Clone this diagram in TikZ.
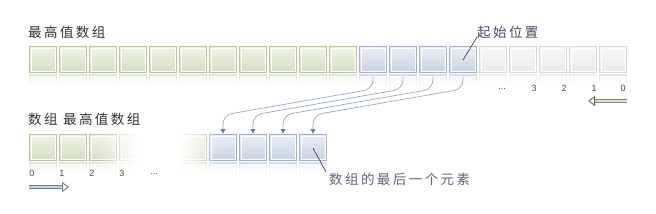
\documentclass[tikz,border=0pt]{standalone}
\usepackage{fontspec}
\setsansfont{Liberation Sans}
\newfontfamily\cjk[LetterSpace=18]{Noto Sans CJK SC}
\usepackage{tikz}
\usetikzlibrary{positioning,arrows.meta,calc,fadings}
\usepackage{xcolor}
\definecolor{grnline}{RGB}{181,197,156}
\definecolor{grntop}{RGB}{240,244,230}
\definecolor{grnbot}{RGB}{211,222,194}
\definecolor{blueline}{RGB}{159,178,203}
\definecolor{bluetop}{RGB}{234,239,247}
\definecolor{bluebot}{RGB}{198,211,227}
\definecolor{grayline}{RGB}{216,216,216}
\definecolor{graytop}{RGB}{248,248,248}
\definecolor{graybot}{RGB}{234,234,234}
\definecolor{moveclr}{RGB}{150,167,193}
\definecolor{tipclr}{RGB}{107,125,153}
\definecolor{labelclr}{RGB}{64,76,96}
% white veil over the gap in the lower row
\pgfdeclarehorizontalshading{gapshade}{100bp}{color(0bp)=(pgftransparent!100); color(25bp)=(pgftransparent!100); color(42bp)=(pgftransparent!0); color(59bp)=(pgftransparent!0); color(75bp)=(pgftransparent!100); color(100bp)=(pgftransparent!100)}
\pgfdeclarefading{gapfade}{\pgfuseshading{gapshade}}
\tikzset{
  cell/.style={minimum width=27pt, minimum height=26pt, inner sep=0pt, line width=0.9pt,
    path picture={\draw[white, line width=0.8pt]
      ([shift={(1.4pt,-1.4pt)}]path picture bounding box.north west) rectangle
      ([shift={(-1.4pt,1.4pt)}]path picture bounding box.south east);}},
  greencell/.style={cell, draw=grnline, top color=grntop, bottom color=grnbot},
  bluecell/.style={cell, draw=blueline, top color=bluetop, bottom color=bluebot},
  graycell/.style={cell, draw=grayline, top color=graytop, bottom color=graybot},
  idx/.style={font=\sffamily\fontsize{9}{9}\selectfont, text=black!70, inner sep=0pt},
  moveline/.style={draw=moveclr, line width=0.7pt, rounded corners=9pt,
    -{Latex[length=5pt,width=5.5pt,color=tipclr]}},
  leader/.style={draw=black!80, line width=0.6pt}
}
\begin{document}
\begin{tikzpicture}[x=1pt,y=-1pt]
  \useasboundingbox (0,0) rectangle (656,214);
  % top row
  \node[anchor=west, inner sep=0pt, text=black!80, font=\cjk\fontsize{13.5}{14}\selectfont] (toptitle) at (28,32) {最高值数组};
  \foreach \i in {0,...,10}
    \node[greencell] (top\i) at (43+30*\i,59.5) {};
  \foreach \i in {11,...,14}
    \node[bluecell] (top\i) at (43+30*\i,59.5) {};
  \foreach \i in {15,...,19}
    \node[graycell] (top\i) at (43+30*\i,59.5) {};
  \foreach \i/\c/\f in {0/grnline/grntop,1/grnline/grntop,2/grnline/grntop,3/grnline/grntop,
      4/grnline/grntop,5/grnline/grntop,6/grnline/grntop,7/grnline/grntop,8/grnline/grntop,
      9/grnline/grntop,10/grnline/grntop,11/blueline/bluetop,12/blueline/bluetop,
      13/blueline/bluetop,14/blueline/bluetop,15/grayline/graytop,16/grayline/graytop,
      17/grayline/graytop,18/grayline/graytop,19/grnline/graytop} {
    \shade[top color=\c!40!white, bottom color=white]
      ([yshift=-2pt]top\i.south west) rectangle ([yshift=-13pt]top\i.south east);
    \shade[top color=\f!50!white, bottom color=white]
      ([shift={(1.4pt,-3.4pt)}]top\i.south west) rectangle ([shift={(-1.4pt,-13pt)}]top\i.south east);
  }
  \node[idx] (n0) at (623,88) {0};
  \node[idx] (n1) at (594,88) {1};
  \node[idx] (n2) at (564,88) {2};
  \node[idx] (n3) at (534,88) {3};
  \node[idx] (ndots) at (502,89) {...};
  \node[anchor=west, inner sep=0pt, text=labelclr, font=\cjk\fontsize{13.5}{14}\selectfont] (startlbl) at (477,32) {起始位置};
  \coordinate (startpt) at (463,60);
  \draw[leader] ([shift={(0pt,-5pt)}]startlbl.west) -- (startpt);
  \coordinate (backS) at (627,101);
  \coordinate (backE) at (588,101);
  \draw[draw=grnline!70!black, double=grntop!60!grnline, double distance=1.8pt, line width=0.8pt,
    -{Triangle[open, length=7pt, width=10pt, line width=0.9pt, color=grnline!55!black]}] (backS) -- (backE);

  % bottom row
  \node[anchor=west, inner sep=0pt, text=black!80, font=\cjk\fontsize{13.5}{14}\selectfont] (bottitle) at (28,119) {数组 最高值数组};
  \foreach \k in {0,...,5}
    \node[greencell] (bot\k) at (43+30*\k,147.5) {};
  \foreach \k in {6,...,9}
    \node[bluecell] (bot\k) at (43+30*\k,147.5) {};
  \foreach \k/\c/\f in {0/grnline/grntop,1/grnline/grntop,2/grnline/grntop,3/grnline/grntop,
      4/grnline/grntop,5/grnline/grntop,6/blueline/bluetop,7/blueline/bluetop,
      8/blueline/bluetop,9/blueline/bluetop} {
    \shade[top color=\c!40!white, bottom color=white]
      ([yshift=-2pt]bot\k.south west) rectangle ([yshift=-13pt]bot\k.south east);
    \shade[top color=\f!50!white, bottom color=white]
      ([shift={(1.4pt,-3.4pt)}]bot\k.south west) rectangle ([shift={(-1.4pt,-13pt)}]bot\k.south east);
  }
  \fill[white, path fading=gapfade] (96,128) rectangle (218,178);
  \node[idx] (m0) at (32,173) {0};
  \node[idx] (m1) at (62,173) {1};
  \node[idx] (m2) at (92,173) {2};
  \node[idx] (m3) at (122,173) {3};
  \node[idx] (mdots) at (154,174) {...};
  \coordinate (fwdS) at (29,187);
  \coordinate (fwdE) at (69,187);
  \draw[draw=tipclr, double=bluetop!50!blueline, double distance=1.8pt, line width=0.8pt,
    -{Triangle[open, length=7pt, width=10pt, line width=0.9pt, color=tipclr]}] (fwdS) -- (fwdE);
  \node[anchor=west, inner sep=0pt, text=labelclr!85, font=\cjk\fontsize{13.5}{14}\selectfont] (lastlbl) at (329,179) {数组的最后一个元素};
  \coordinate (lastpt) at (313,148);
  \draw[leader] ([shift={(-3pt,7pt)}]lastlbl.west) -- (lastpt);

  % moved elements
  \foreach \i/\j in {11/6,12/7,13/8,14/9}
    \draw[moveline] ([yshift=-4pt]top\i.south) -- ++(0,12) -- ($(bot\j.north)+(0,-19)$) -- (bot\j.north);
\end{tikzpicture}
\end{document}
